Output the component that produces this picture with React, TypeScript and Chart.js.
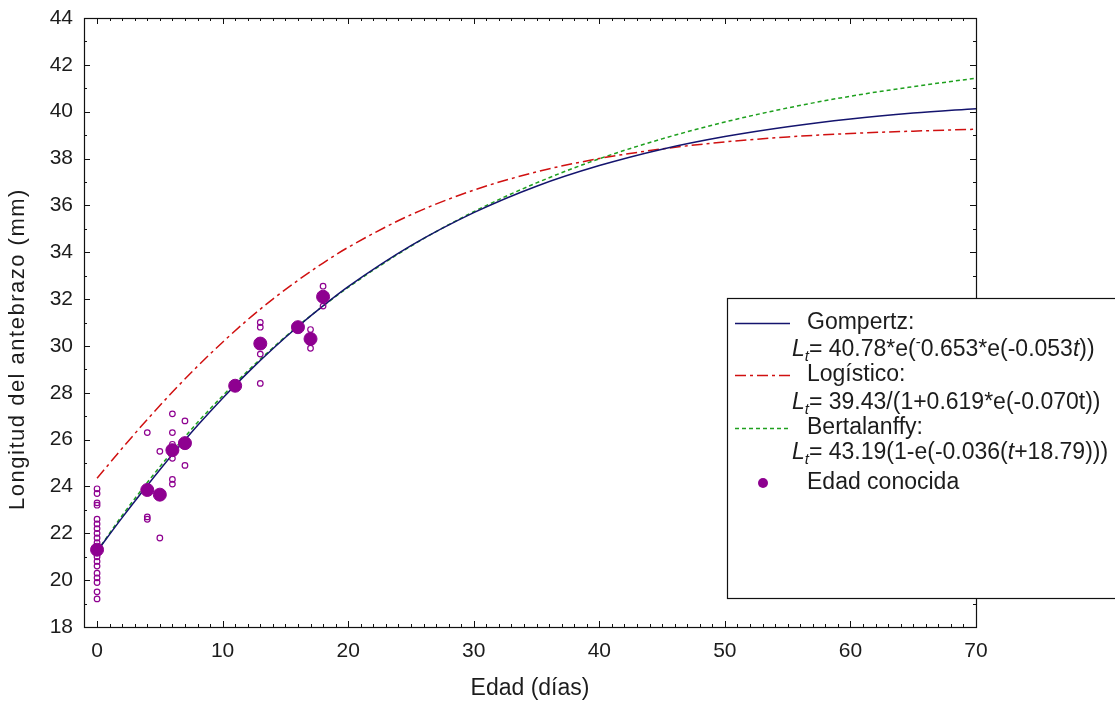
import React, { useEffect, useRef } from "react";
import { Chart, registerables } from "chart.js";

Chart.register(...registerables);

const FONT = "'Liberation Sans', Arial, Helvetica, sans-serif";
const PURPLE = "#8e0090";
const TEXT = "#1c1c1c";

// Fitted growth curves (age in days -> forearm length, mm)
const curveAges = [0, 2, 4, 6, 8, 10, 12, 14, 16, 18, 20, 25, 30, 35, 40, 45, 50, 55, 60, 65, 70];
const gompertzLength = [21.23, 22.67, 24.04, 25.36, 26.6, 27.77, 28.86, 29.88, 30.83, 31.71, 32.53, 34.28, 35.69, 36.82, 37.7, 38.4, 38.94, 39.36, 39.69, 39.94, 40.13];
const logisticoLength = [24.35, 25.63, 26.86, 28.03, 29.13, 30.16, 31.12, 32.0, 32.8, 33.54, 34.21, 35.6, 36.65, 37.43, 38.0, 38.41, 38.71, 38.92, 39.07, 39.17, 39.25];
const bertalanffyLength = [21.23, 22.76, 24.17, 25.49, 26.73, 27.87, 28.93, 29.92, 30.85, 31.7, 32.5, 34.26, 35.73, 36.96, 37.99, 38.84, 39.56, 40.16, 40.66, 41.07, 41.43];

// Known-age means (large filled markers)
const knownAge = [0, 4, 5, 6, 7, 11, 13, 16, 17, 18];
const knownLength = [21.3, 23.85, 23.65, 25.55, 25.85, 28.3, 30.1, 30.8, 30.3, 32.1];

// Individual measurements (small open circles)
const sampleAge = [
  0, 0, 0, 0, 0, 0, 0, 0, 0, 0, 0, 0, 0, 0, 0, 0, 0, 0, 0,
  4, 4, 4,
  5, 5,
  6, 6, 6, 6, 6, 6,
  7, 7,
  13, 13, 13, 13,
  17, 17,
  18, 18,
];
const sampleLength = [
  23.9, 23.7, 23.3, 23.2, 22.6, 22.4, 22.2, 22.0, 21.8, 21.6, 21.4, 21.0, 20.8, 20.6, 20.3, 20.1, 19.9, 19.5, 19.2,
  26.3, 22.7, 22.6,
  25.5, 21.8,
  27.1, 26.3, 25.8, 25.2, 24.3, 24.1,
  26.8, 24.9,
  31.0, 30.8, 29.65, 28.4,
  30.7, 29.9,
  32.55, 31.7,
];

const xTickValues = [0, 10, 20, 30, 40, 50, 60, 70];
const yTickValues = [18, 20, 22, 24, 26, 28, 30, 32, 34, 36, 38, 40, 42, 44];
const xMin = -1.04;
const xMax = 70;
const yMin = 18;
const yMax = 44;
const xMinorStep = 1;
const yMinorStep = 1;

const xTitle = "Edad (días)";
const yTitle = "Longitud del antebrazo (mm)";

type Seg = { t: string; it?: boolean; sub?: boolean; sup?: boolean };

const legendItems: { kind: string; name: string; formula?: Seg[] }[] = [
  {
    kind: "gompertz",
    name: "Gompertz:",
    formula: [
      { t: "L", it: true },
      { t: "t", it: true, sub: true },
      { t: "= 40.78*e(" },
      { t: "-", sup: true },
      { t: "0.653*e(-0.053" },
      { t: "t", it: true },
      { t: "))" },
    ],
  },
  {
    kind: "logistico",
    name: "Logístico:",
    formula: [
      { t: "L", it: true },
      { t: "t", it: true, sub: true },
      { t: "= 39.43/(1+0.619*e(-0.070t))" },
    ],
  },
  {
    kind: "bertalanffy",
    name: "Bertalanffy:",
    formula: [
      { t: "L", it: true },
      { t: "t", it: true, sub: true },
      { t: "= 43.19(1-e(-0.036(" },
      { t: "t", it: true },
      { t: "+18.79)))" },
    ],
  },
  { kind: "marker", name: "Edad conocida" },
];

const pts = (xs: number[], ys: number[]) => xs.map((x, i) => ({ x, y: ys[i] }));

const STYLE: Record<string, { color: string; dash: number[] }> = {
  gompertz: { color: "#14146e", dash: [] },
  logistico: { color: "#d01010", dash: [11, 4, 3, 4] },
  bertalanffy: { color: "#1ea01e", dash: [4, 3] },
};

function drawRich(ctx: CanvasRenderingContext2D, x: number, y: number, segs: Seg[], size: number) {
  let cx = x;
  for (const s of segs) {
    const sz = s.sub || s.sup ? Math.round(size * 0.65) : size;
    ctx.font = `${s.it ? "italic " : ""}${sz}px ${FONT}`;
    const dy = s.sub ? size * 0.28 : s.sup ? -size * 0.3 : 0;
    ctx.fillText(s.t, cx, y + dy);
    cx += ctx.measureText(s.t).width;
  }
}

const zeroPad = (s: any) => {
  s.paddingTop = 0;
  s.paddingBottom = 0;
  s.paddingLeft = 0;
  s.paddingRight = 0;
};

const framePlugin = {
  id: "framePlugin",
  afterDraw(chart: any) {
    const ctx: CanvasRenderingContext2D = chart.ctx;
    const { left, right, top, bottom } = chart.chartArea;
    const xs = chart.scales.x;
    const ys = chart.scales.y;
    ctx.save();
    ctx.strokeStyle = "#111";
    ctx.lineWidth = 1.2;
    ctx.strokeRect(Math.round(left) + 0.5, Math.round(top) + 0.5, Math.round(right - left), Math.round(bottom - top));

    ctx.lineWidth = 1;
    ctx.beginPath();
    for (let v = 0; v <= xMax + 1e-9; v += xMinorStep) {
      const major = xTickValues.includes(v);
      const len = major ? 6 : 3;
      const px = Math.round(xs.getPixelForValue(v)) + 0.5;
      ctx.moveTo(px, bottom);
      ctx.lineTo(px, bottom - len);
      ctx.moveTo(px, top);
      ctx.lineTo(px, top + len);
    }
    for (let v = yMin; v <= yMax + 1e-9; v += yMinorStep) {
      const major = yTickValues.includes(v);
      const len = major ? 6 : 3;
      const py = Math.round(ys.getPixelForValue(v)) + 0.5;
      ctx.moveTo(left, py);
      ctx.lineTo(left + len, py);
      ctx.moveTo(right, py);
      ctx.lineTo(right - len, py);
    }
    ctx.stroke();

    // axis titles
    ctx.fillStyle = TEXT;
    ctx.textBaseline = "middle";
    ctx.textAlign = "center";
    ctx.font = `23px ${FONT}`;
    ctx.fillText(xTitle, (left + right) / 2, 689);
    ctx.save();
    ctx.translate(18, 349);
    ctx.rotate(-Math.PI / 2);
    ctx.font = `22px ${FONT}`;
    (ctx as any).letterSpacing = "1.5px";
    ctx.fillText(yTitle, 0, 0);
    ctx.restore();

    // legend box
    const bx = 727.5;
    const by = 298.5;
    ctx.fillStyle = "#fff";
    ctx.fillRect(bx, by, 420, 300);
    ctx.strokeStyle = "#111";
    ctx.lineWidth = 1.2;
    ctx.strokeRect(bx, by, 420, 300);

    const rowY = [323, 375, 428, 483];
    const formulaY = [350, 403, 453];
    const LS = 23;
    ctx.textAlign = "left";
    legendItems.forEach((item, i) => {
      const y = rowY[i];
      if (item.kind === "marker") {
        ctx.fillStyle = PURPLE;
        ctx.beginPath();
        ctx.arc(763, y, 5, 0, Math.PI * 2);
        ctx.fill();
      } else {
        const st = STYLE[item.kind];
        ctx.strokeStyle = st.color;
        ctx.lineWidth = 1.5;
        ctx.setLineDash(st.dash);
        ctx.beginPath();
        ctx.moveTo(735, y + 0.5);
        ctx.lineTo(790, y + 0.5);
        ctx.stroke();
        ctx.setLineDash([]);
      }
      ctx.fillStyle = TEXT;
      ctx.font = `${LS}px ${FONT}`;
      ctx.fillText(item.name, 807, y);
      if (item.formula) {
        drawRich(ctx, 792, formulaY[i], item.formula, LS);
      }
    });
    ctx.restore();
  },
};

export default function App() {
  const ref = useRef<HTMLCanvasElement | null>(null);

  useEffect(() => {
    if (!ref.current) return;
    const lineDs = (label: string, kind: string, data: number[], order: number) => ({
      label,
      data: pts(curveAges, data),
      showLine: true,
      pointRadius: 0,
      borderColor: STYLE[kind].color,
      borderDash: STYLE[kind].dash,
      borderWidth: 1.5,
      cubicInterpolationMode: "monotone" as const,
      fill: false,
      order,
    });
    const chart = new Chart(ref.current, {
      type: "scatter",
      data: {
        datasets: [
          {
            label: "Edad conocida",
            data: pts(knownAge, knownLength),
            pointRadius: 6.5,
            pointBackgroundColor: PURPLE,
            pointBorderColor: PURPLE,
            pointBorderWidth: 1,
            showLine: false,
            order: 1,
          },
          {
            label: "Individuos",
            data: pts(sampleAge, sampleLength),
            pointRadius: 2.8,
            pointBorderWidth: 1.2,
            pointBackgroundColor: "rgba(255,255,255,0)",
            pointBorderColor: PURPLE,
            showLine: false,
            order: 2,
          },
          lineDs("Gompertz", "gompertz", gompertzLength, 3),
          lineDs("Logístico", "logistico", logisticoLength, 4),
          lineDs("Bertalanffy", "bertalanffy", bertalanffyLength, 5),
        ],
      },
      options: {
        responsive: false,
        animation: false,
        devicePixelRatio: 1,
        layout: { padding: { left: 0, right: 139, top: 18, bottom: 0 } },
        plugins: { legend: { display: false }, tooltip: { enabled: false }, title: { display: false } },
        scales: {
          x: {
            type: "linear",
            min: xMin,
            max: xMax,
            position: "bottom",
            afterBuildTicks: (s: any) => {
              s.ticks = xTickValues.map((v) => ({ value: v }));
            },
            ticks: {
              font: { family: FONT, size: 21 },
              color: TEXT,
              padding: 12,
              maxRotation: 0,
              autoSkip: false,
            },
            grid: { display: false, drawTicks: false },
            border: { display: false },
            afterFit: (s: any) => {
              s.height = 80;
              zeroPad(s);
            },
          },
          y: {
            type: "linear",
            min: yMin,
            max: yMax,
            afterBuildTicks: (s: any) => {
              s.ticks = yTickValues.map((v) => ({ value: v }));
            },
            ticks: {
              font: { family: FONT, size: 21 },
              color: TEXT,
              padding: 11,
              autoSkip: false,
            },
            grid: { display: false, drawTicks: false },
            border: { display: false },
            afterFit: (s: any) => {
              s.width = 84;
              zeroPad(s);
            },
          },
        },
      },
      plugins: [framePlugin],
    });
    return () => chart.destroy();
  }, []);

  return (
    <div style={{ position: "absolute", left: 0, top: 0, width: 1115, height: 707, background: "#fff" }}>
      <canvas ref={ref} width={1115} height={707} style={{ display: "block", width: 1115, height: 707 }} />
    </div>
  );
}
